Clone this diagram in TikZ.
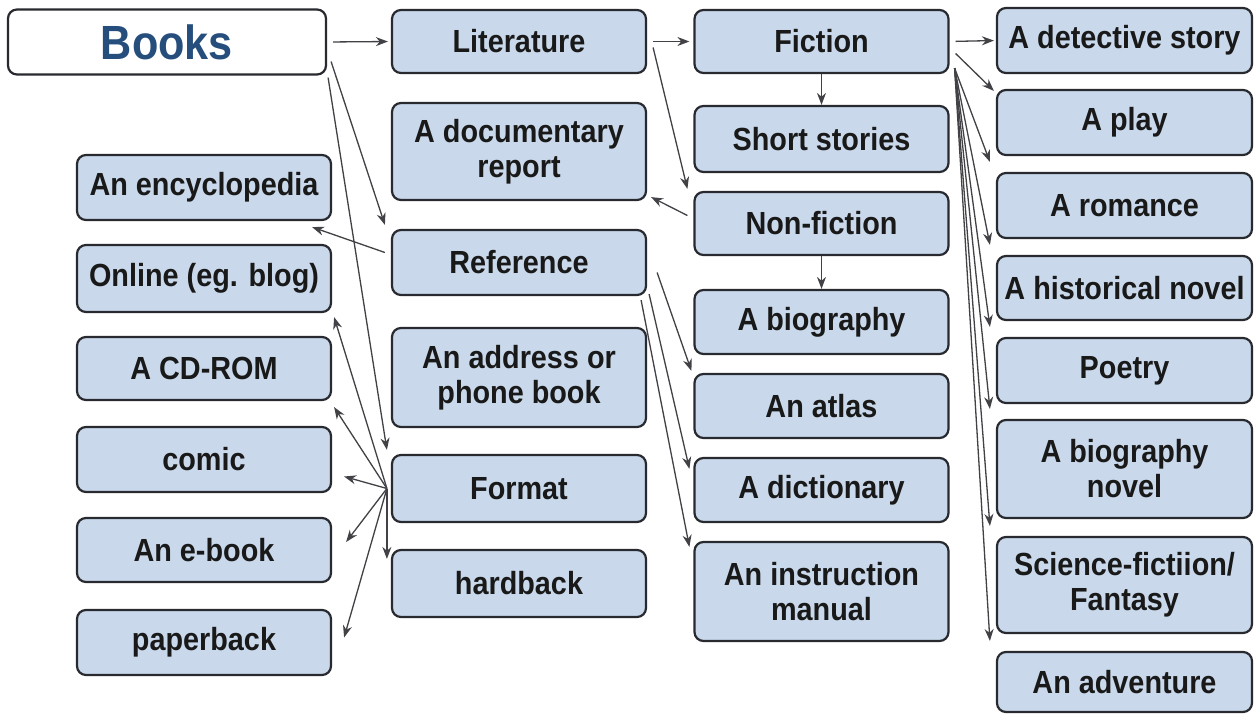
\documentclass[tikz,border=0pt]{standalone}
\usepackage{fontspec}
\setmainfont{Liberation Sans}[FakeStretch=0.9]
\usetikzlibrary{arrows.meta}
\definecolor{boxfill}{RGB}{201,217,235}
\definecolor{boxline}{RGB}{40,42,48}
\definecolor{booksblue}{RGB}{38,78,124}
\definecolor{arrline}{RGB}{65,65,70}
\tikzset{
  box/.style={draw=boxline, line width=2.2pt, fill=boxfill, rounded corners=9pt,
    minimum width=254pt, inner sep=0pt, align=center, text=black!90,
    font=\bfseries\fontsize{32}{35}\selectfont},
  arr/.style={draw=arrline, line width=1.3pt, -{Stealth[length=12pt,width=9pt]}}
}
\begin{document}
\begin{tikzpicture}[x=1pt,y=-1pt]
  \useasboundingbox (0,0) rectangle (1257,715);
  \fill[white] (0,0) rectangle (1257,715);

  \node[box, fill=white, minimum width=318pt, minimum height=65pt, text=booksblue,
        font=\bfseries\fontsize{48}{50}\selectfont] (books) at (167,42) {Books};

  \node[box, minimum height=63pt] (literature) at (519,41.5) {Literature};
  \node[box, minimum height=97pt] (documentary) at (519,151.5) {A documentary\\report};
  \node[box, minimum height=65pt] (reference) at (519,262.5) {Reference};
  \node[box, minimum height=99pt] (address) at (519,377.5) {An address or\\phone book};
  \node[box, minimum height=67pt] (format) at (519,488.5) {Format};
  \node[box, minimum height=67pt] (hardback) at (519,583.5) {hardback};

  \node[box, minimum height=63pt] (fiction) at (821.5,41.5) {Fiction};
  \node[box, minimum height=66pt] (short) at (821.5,139) {Short stories};
  \node[box, minimum height=63pt] (nonfiction) at (821.5,223.5) {Non-fiction};
  \node[box, minimum height=64pt] (biography) at (821.5,322) {A biography};
  \node[box, minimum height=64pt] (atlas) at (821.5,406) {An atlas};
  \node[box, minimum height=64pt] (dictionary) at (821.5,490) {A dictionary};
  \node[box, minimum height=99pt] (manual) at (821.5,591.5) {An instruction\\manual};

  \node[box, minimum height=65pt] (encyclopedia) at (204,187.5) {An encyclopedia};
  \node[box, minimum height=67pt] (online) at (204,278.5) {Online (eg. blog)};
  \node[box, minimum height=63pt] (cdrom) at (204,368.5) {A CD-ROM};
  \node[box, minimum height=65pt] (comic) at (204,459.5) {comic};
  \node[box, minimum height=64pt] (ebook) at (204,550) {An e-book};
  \node[box, minimum height=65pt] (paperback) at (204,642.5) {paperback};

  \node[box, minimum width=255pt, minimum height=65pt] (detective) at (1124.5,40.5) {A detective story};
  \node[box, minimum width=255pt, minimum height=65pt] (play) at (1124.5,122.5) {A play};
  \node[box, minimum width=255pt, minimum height=65pt] (romance) at (1124.5,205.5) {A romance};
  \node[box, minimum width=255pt, minimum height=64pt] (historical) at (1124.5,288) {A historical novel};
  \node[box, minimum width=255pt, minimum height=65pt] (poetry) at (1124.5,370.5) {Poetry};
  \node[box, minimum width=255pt, minimum height=98pt] (bionovel) at (1124.5,469) {A biography\\novel};
  \node[box, minimum width=255pt, minimum height=96pt] (scifi) at (1124.5,585) {Science-fictiion/\\Fantasy};
  \node[box, minimum width=255pt, minimum height=60pt] (adventure) at (1124.5,682) {An adventure};

  \draw[arr, shorten <=6pt, shorten >=3pt] (books.east) -- (literature.west);
  \draw[arr] ([xshift=4pt,yshift=14pt]books.south east) -- ([xshift=-6pt,yshift=4pt]reference.north west);
  \draw[arr] ([xshift=1pt,yshift=-2pt]books.south east) -- ([xshift=-4pt,yshift=4pt]format.north west);

  \draw[arr, shorten <=6pt, shorten >=4pt] (literature.east) -- (fiction.west);
  \draw[arr] ([xshift=6pt,yshift=-6pt]literature.east) -- ([xshift=-6pt,yshift=2pt]nonfiction.north west);

  \draw[arr] (fiction.south) -- (short.north);
  \draw[arr] (nonfiction.south) -- (biography.north);
  \draw[arr] ([xshift=-6pt,yshift=8pt]nonfiction.west) -- ([xshift=4pt,yshift=4pt]documentary.south east);

  \draw[arr, shorten <=6pt, shorten >=2pt] (fiction.east) -- (detective.west);
  \draw[arr] ([xshift=6pt,yshift=-12pt]fiction.east) -- ([xshift=-2pt,yshift=-2pt]play.north west);
  \foreach \t in {romance,historical,poetry,bionovel,scifi,adventure}{
    \draw[arr] ([xshift=5pt,yshift=6pt]fiction.south east) -- ([xshift=-6pt,yshift=10pt]\t.north west);
  }

  \draw[arr] ([xshift=-6pt,yshift=10pt]reference.west) -- ([xshift=-20pt,yshift=-6pt]encyclopedia.south east);
  \draw[arr] ([xshift=10pt,yshift=-10pt]reference.east) -- ([xshift=-2pt,yshift=2pt]atlas.north west);
  \draw[arr] ([xshift=2pt,yshift=2pt]reference.south east) -- ([xshift=-4pt,yshift=-12pt]dictionary.north west);
  \draw[arr] ([xshift=-6pt,yshift=-4pt]reference.south east) -- ([xshift=-4pt,yshift=-6pt]manual.north west);

  \coordinate (fsrc) at ([xshift=-4pt]format.west);
  \draw[arr] (fsrc) -- ([xshift=2pt,yshift=-4pt]online.south east);
  \draw[arr] (fsrc) -- ([xshift=2pt,yshift=-6pt]cdrom.south east);
  \draw[arr] (fsrc) -- ([xshift=12pt,yshift=-17pt]comic.east);
  \draw[arr] (fsrc) -- ([xshift=14pt,yshift=8pt]ebook.east);
  \draw[arr] (fsrc) -- ([xshift=12pt,yshift=5pt]paperback.east);
  \draw[arr] (fsrc) -- ([xshift=-4pt,yshift=-10pt]hardback.north west);
\end{tikzpicture}
\end{document}
